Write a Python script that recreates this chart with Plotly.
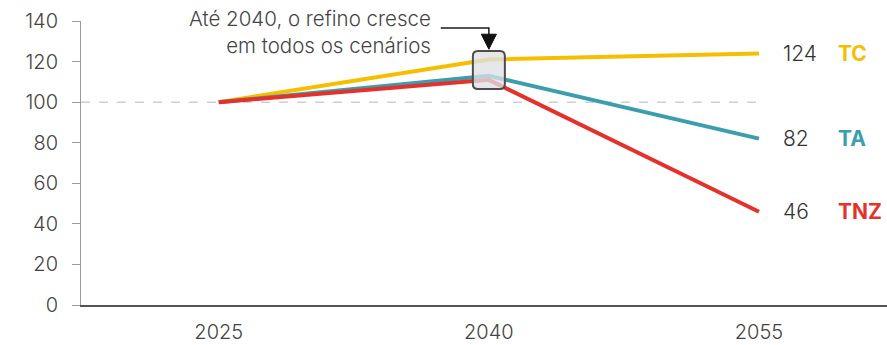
import plotly.graph_objects as go

# Refining index by scenario (2025 = 100)
years = ["2025", "2040", "2055"]
scenarios = ["TC", "TA", "TNZ"]
values = {
    "TC": [100, 121, 124],
    "TA": [100, 113, 82],
    "TNZ": [100, 111, 46],
}
colors = {"TC": "#F6BE00", "TA": "#3A9EAE", "TNZ": "#E5312B"}
y_ticks = [0, 20, 40, 60, 80, 100, 120, 140]

x = list(range(len(years)))
FONT = "Inter, Roboto, sans-serif"
TEXT = "#444444"

fig = go.Figure()

# baseline reference at 100
fig.add_shape(type="line", xref="x", yref="y", x0=-0.51, x1=2, y0=100, y1=100,
              line=dict(color="#cfcfcf", width=1.5, dash="dash"), layer="below")

for s in scenarios:
    fig.add_trace(go.Scatter(x=x, y=values[s], mode="lines", name=s,
                             line=dict(color=colors[s], width=4),
                             hoverinfo="skip", showlegend=False))

# highlight box around the 2040 points
fig.add_shape(type="path", xref="x", yref="y", xsizemode="pixel", ysizemode="pixel",
              xanchor=1, yanchor=115.8,
              path="M -11,19 L 11,19 Q 16,19 16,14 L 16,-14 Q 16,-19 11,-19 "
                   "L -11,-19 Q -16,-19 -16,-14 L -16,14 Q -16,19 -11,19 Z",
              fillcolor="rgba(222,224,230,0.78)", line=dict(color="#4d4d4d", width=2),
              layer="above")

# end-of-line value and scenario labels
for s in scenarios:
    v = values[s][-1]
    fig.add_annotation(x=2, y=v, xref="x", yref="y", text=str(v), showarrow=False,
                       xanchor="left", xshift=22, font=dict(family=FONT, size=21, weight=300,
                                                            color="#333333"))
    fig.add_annotation(x=2, y=v, xref="x", yref="y", text=f"<b>{s}</b>", showarrow=False,
                       xanchor="left", xshift=77, font=dict(family=FONT, size=21, color=colors[s]))

# callout text with elbow arrow
fig.add_annotation(x=0.795, y=134.5, xref="x", yref="y", xanchor="right", yanchor="middle",
                   align="right", showarrow=False,
                   text="Até 2040, o refino cresce<br>em todos os cenários",
                   font=dict(family=FONT, size=20.5, weight=300, color="#444444"))
fig.add_shape(type="path", xref="x", yref="y",
              path="M 0.822,136.5 L 1,136.5 L 1,133",
              line=dict(color="#1a1a1a", width=1.5))
fig.add_shape(type="path", xref="x", yref="y",
              path="M 0.972,133.5 L 1.028,133.5 L 1,126.1 Z",
              fillcolor="#111111", line=dict(color="#111111", width=1))

fig.update_layout(
    width=887, height=345,
    margin=dict(l=81, r=0, t=21, b=40, autoexpand=False),
    plot_bgcolor="white", paper_bgcolor="white",
    font=dict(family=FONT, color=TEXT),
    xaxis=dict(range=[-0.51, 2.474], tickvals=x, ticktext=years, showgrid=False,
               zeroline=False, showline=True, linecolor="#555555", linewidth=1.5,
               ticks="", ticklabelstandoff=8, automargin=False,
               tickfont=dict(family=FONT, size=20, weight=300, color=TEXT)),
    yaxis=dict(range=[0, 140], tickvals=y_ticks, showgrid=False, zeroline=False,
               showline=True, linecolor="#9a9a9a", linewidth=1, automargin=False,
               ticks="outside", ticklen=8, tickcolor="#9a9a9a", ticklabelstandoff=10,
               tickfont=dict(family=FONT, size=20, weight=300, color=TEXT)),
)

fig.write_html("out.html")
